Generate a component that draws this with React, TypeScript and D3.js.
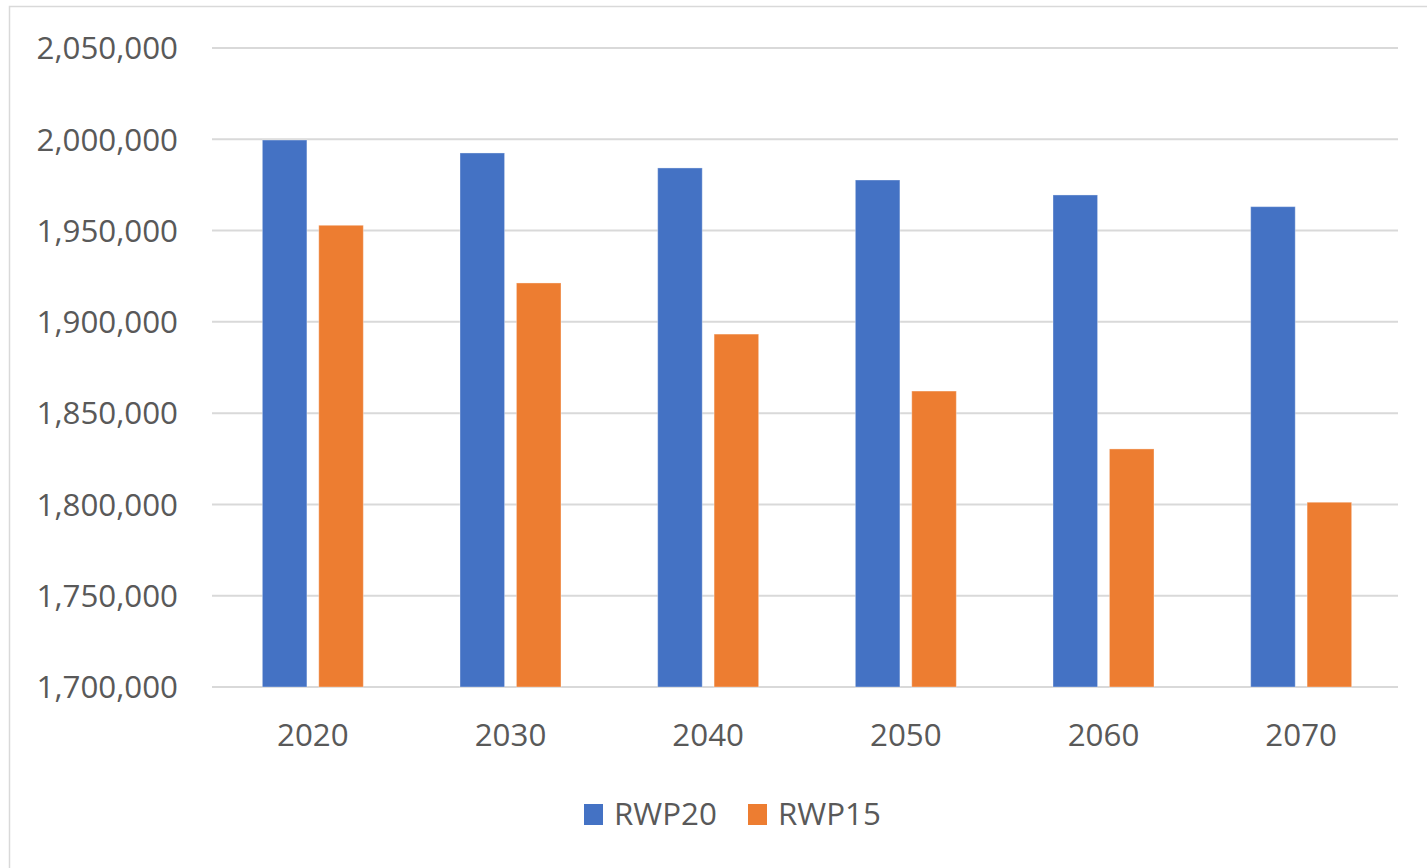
import React from 'react';
import * as d3 from 'd3';

const years = ['2020', '2030', '2040', '2050', '2060', '2070'];
const seriesNames = ['RWP20', 'RWP15'];
const rwp20 = [1999600, 1992500, 1984300, 1977700, 1969500, 1963100];
const rwp15 = [1952900, 1921300, 1893300, 1862100, 1830400, 1801200];
const yTicks = [1700000, 1750000, 1800000, 1850000, 1900000, 1950000, 2000000, 2050000];
const colors = ['#4472C4', '#ED7D31'];

const W = 1427, H = 868;
const plot = { left: 212, right: 1398, top: 48, bottom: 687 };
const font = '"Open Sans", "Liberation Sans", sans-serif';
const textColor = '#595959';

export default function App() {
  const y = d3.scaleLinear().domain([1700000, 2050000]).range([plot.bottom, plot.top]);
  const x0 = d3.scaleBand().domain(years).range([plot.left, plot.right]);
  const groupW = x0.bandwidth() * (101 / 197.7);
  const x1 = d3.scaleBand().domain(seriesNames).range([0, groupW]).paddingInner(0.21);
  const fmt = d3.format(',');
  const values = [rwp20, rwp15];

  return (
    <svg width={W} height={H} style={{ position: 'absolute', left: 0, top: 0, background: '#fff' }}>
      <rect x={9.5} y={6.5} width={W} height={H} fill="#fff" stroke="#D9D9D9" strokeWidth={1.5} />
      {yTicks.map(t => (
        <g key={t}>
          <line x1={plot.left} x2={plot.right} y1={y(t)} y2={y(t)} stroke="#D9D9D9" strokeWidth={2} />
          <text x={178} y={y(t)} dy="0.36em" textAnchor="end" fontFamily={font} fontSize={31.3} fill={textColor}>
            {fmt(t)}
          </text>
        </g>
      ))}
      {years.map((yr, i) => {
        const gx = x0(yr)! + (x0.bandwidth() - groupW) / 2 + 2;
        return (
          <g key={yr}>
            {seriesNames.map((s, j) => (
              <rect key={s} x={gx + x1(s)!} y={y(values[j][i])} width={x1.bandwidth()}
                height={plot.bottom - y(values[j][i])} fill={colors[j]}
                stroke="#fff" strokeOpacity={0.35} strokeWidth={1} />
            ))}
            <text x={x0(yr)! + x0.bandwidth() / 2 + 2} y={746} textAnchor="middle" fontFamily={font}
              fontSize={31.3} fill={textColor}>{yr}</text>
          </g>
        );
      })}
      {seriesNames.map((s, j) => {
        const lx = [584, 748][j];
        return (
          <g key={s}>
            <rect x={lx} y={804} width={19} height={21} fill={colors[j]} />
            <text x={lx + 30} y={825} fontFamily={font} fontSize={31.3} fill={textColor}>{s}</text>
          </g>
        );
      })}
    </svg>
  );
}
